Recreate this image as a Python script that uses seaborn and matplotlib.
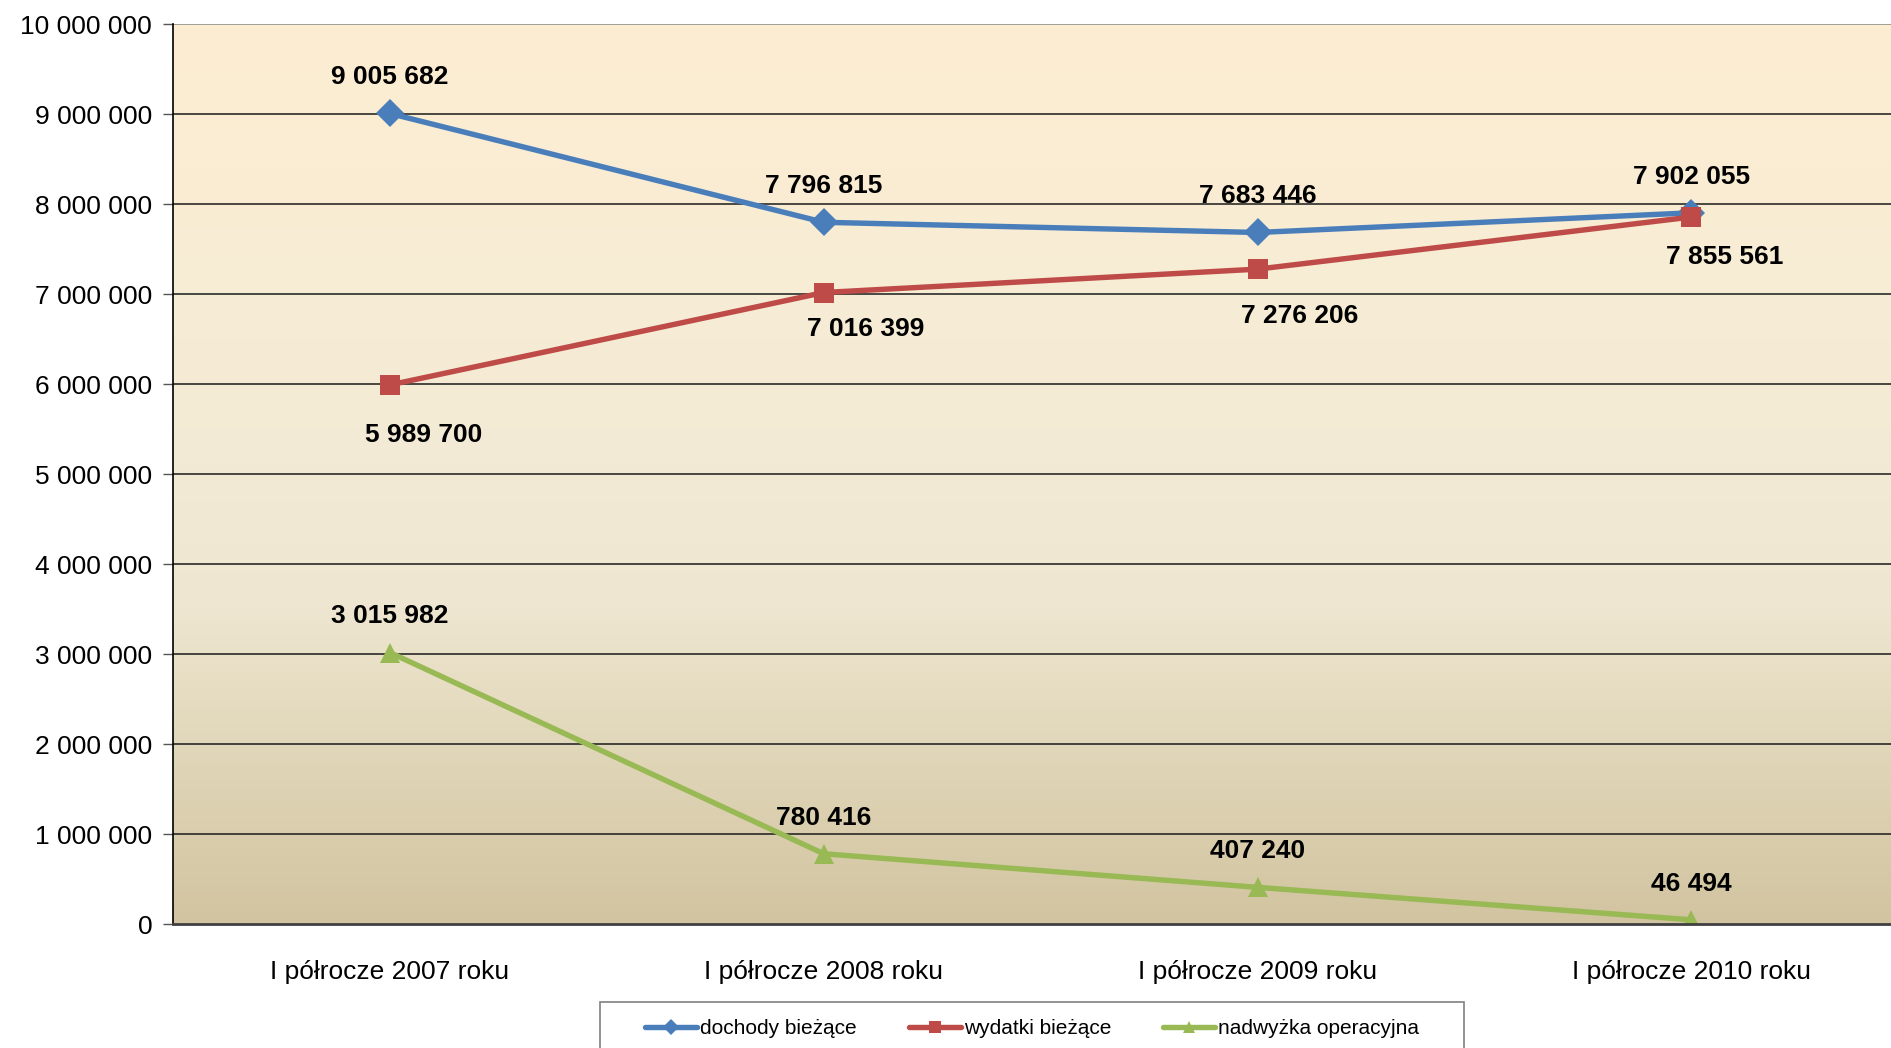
import numpy as np
import pandas as pd
import matplotlib
matplotlib.use("Agg")
import matplotlib.pyplot as plt
from matplotlib.colors import LinearSegmentedColormap
from matplotlib.patches import Rectangle
import seaborn as sns

# Data
categories = ["I półrocze 2007 roku", "I półrocze 2008 roku",
              "I półrocze 2009 roku", "I półrocze 2010 roku"]
dochody = [9005682, 7796815, 7683446, 7902055]
wydatki = [5989700, 7016399, 7276206, 7855561]
nadwyzka = [3015982, 780416, 407240, 46494]
series_names = ["dochody bieżące", "wydatki bieżące", "nadwyżka operacyjna"]

# long frame for seaborn
rows = []
for name, vals in zip(series_names, [dochody, wydatki, nadwyzka]):
    for i, v in enumerate(vals):
        rows.append({"pos": i, "value": v, "series": name})
df = pd.DataFrame(rows)

colors = {"dochody bieżące": "#4A7EBB", "wydatki bieżące": "#BE4B48",
          "nadwyżka operacyjna": "#98B954"}
markers = {"dochody bieżące": "D", "wydatki bieżące": "s",
           "nadwyżka operacyjna": "^"}
msizes = {"dochody bieżące": 14, "wydatki bieżące": 14, "nadwyżka operacyjna": 15}
# label offsets in points (dx, dy)
label_offsets = {
    "dochody bieżące": [(0, 26)] * 4,
    "wydatki bieżące": [(24, -36), (30, -26), (30, -34), (24, -29)],
    "nadwyżka operacyjna": [(0, 26)] * 4,
}

sns.set_style("white")
plt.rcParams["font.family"] = ["Liberation Sans", "DejaVu Sans"]
plt.rcParams["text.color"] = "black"
plt.rcParams["xtick.labelcolor"] = "black"
plt.rcParams["ytick.labelcolor"] = "black"

fig = plt.figure(figsize=(18.91, 10.48), dpi=100)
ax = fig.add_axes([173 / 1891, 1 - 924 / 1048, 1 - 173 / 1891, 900 / 1048])

# gradient background
grad_cmap = LinearSegmentedColormap.from_list(
    "bg", [(0.0, "#D2C4A0"), (0.2, "#E1D7BA"), (0.35, "#EEE6D0"),
           (0.55, "#F4EBD6"), (1.0, "#FDEED2")])
ax.imshow(np.linspace(0, 1, 256).reshape(-1, 1), cmap=grad_cmap, aspect="auto",
          extent=(-0.5, 3.46, 0, 10000000), origin="lower", zorder=0)

for y in range(1000000, 10000001, 1000000):
    ax.axhline(y, color="#1a1a1a" if y < 10000000 else "#888888", lw=1.1, zorder=1)

for name in series_names:
    sub = df[df["series"] == name]
    sns.lineplot(data=sub, x="pos", y="value", ax=ax, color=colors[name],
                 marker=markers[name], markersize=msizes[name], markeredgewidth=0,
                 linewidth=3.9, label=name, zorder=3, legend=False)
    for (x, v), off in zip(zip(sub["pos"], sub["value"]), label_offsets[name]):
        txt = f"{v:,}".replace(",", " ")
        ax.annotate(txt, (x, v), xytext=off, textcoords="offset points",
                    ha="center", va="center", fontsize=19, fontweight="bold",
                    color="black", zorder=4)

ax.set_xlim(-0.5, 3.46)
ax.set_ylim(0, 10000000)
ax.set_yticks(range(0, 10000001, 1000000))
ax.set_yticklabels([f"{y:,}".replace(",", " ") for y in range(0, 10000001, 1000000)],
                   fontsize=19)
ax.set_xticks(range(len(categories)))
ax.set_xticklabels(categories, fontsize=19)
ax.set_xticks([0.5, 1.5, 2.5], minor=True)
ax.tick_params(axis="x", which="major", length=0, pad=26)
ax.tick_params(axis="x", which="minor", length=7, width=1, color="#555555", direction="out")
ax.tick_params(axis="y", length=7, width=1, color="#555555", direction="out", pad=8, left=True)
ax.set_xlabel("")
ax.set_ylabel("")

for s in ["top", "right"]:
    ax.spines[s].set_visible(False)
ax.spines["left"].set_color("#000000")
ax.spines["left"].set_linewidth(1.2)
ax.spines["bottom"].set_color("#404040")
ax.spines["bottom"].set_linewidth(2)
ax.spines["bottom"].set_zorder(5)

# legend box (runs off the bottom edge like the original)
fig.patches.append(Rectangle((600 / 1891, -0.05), 864 / 1891, 0.05 + 46 / 1048,
                             transform=fig.transFigure, facecolor="white",
                             edgecolor="#808080", linewidth=1.2))
handles, labels = ax.get_legend_handles_labels()
leg = fig.legend(handles, labels, loc="center", ncol=3,
                 bbox_to_anchor=(1032 / 1891, 1 - 1029 / 1048),
                 fontsize=15, frameon=False,
                 handlelength=2.5, handletextpad=0.15, columnspacing=2.5,
                 borderpad=0, borderaxespad=0, markerscale=0.6)
for t in leg.get_texts():
    t.set_color("black")

fig.savefig("out.png", dpi=100)
